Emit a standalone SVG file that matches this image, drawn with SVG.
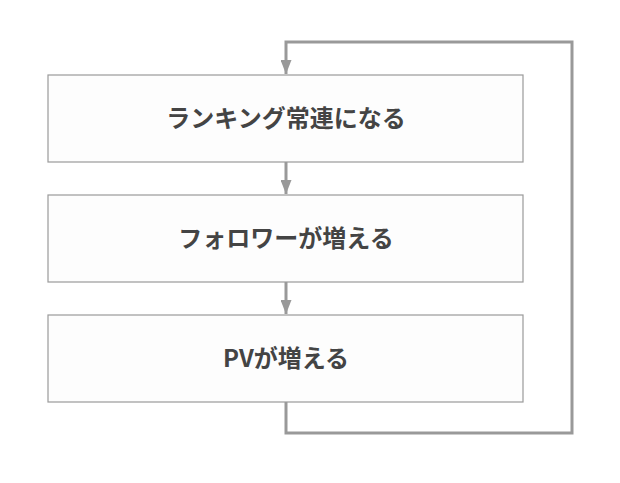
<svg xmlns="http://www.w3.org/2000/svg" width="620" height="483" viewBox="0 0 620 483">
<style>
.box{fill:#fdfdfd;stroke:#9a9a9a;stroke-width:1.2}
.lbl{font-family:"Noto Sans CJK JP","Noto Sans",sans-serif;font-weight:bold;font-size:24px;fill:#444;text-anchor:middle;dominant-baseline:central}
.conn{fill:none;stroke:#999;stroke-width:3}
</style>
<defs>
<marker id="ah2" viewBox="0 0 14 11" refX="14" refY="5.5" markerWidth="14" markerHeight="11" markerUnits="userSpaceOnUse" orient="auto">
<path d="M0,0 L14,5.5 L0,11 Z" fill="#999"/>
</marker>
</defs>
<rect width="620" height="483" fill="#fff"/>
<g id="connectors">
<path class="conn" d="M286,402 V433 H572 V42 H286 V74" marker-end="url(#ah2)"/>
<path class="conn" d="M286,162 V194" marker-end="url(#ah2)"/>
<path class="conn" d="M286,282 V314" marker-end="url(#ah2)"/>
</g>
<g id="node1">
<rect class="box" x="48" y="75" width="475" height="87"/>
<text class="lbl" x="286" y="116">ランキング常連になる</text>
</g>
<g id="node2">
<rect class="box" x="48" y="195" width="475" height="87"/>
<text class="lbl" x="286" y="236">フォロワーが増える</text>
</g>
<g id="node3">
<rect class="box" x="48" y="315" width="475" height="87"/>
<text class="lbl" x="286" y="356">PVが増える</text>
</g>
</svg>
